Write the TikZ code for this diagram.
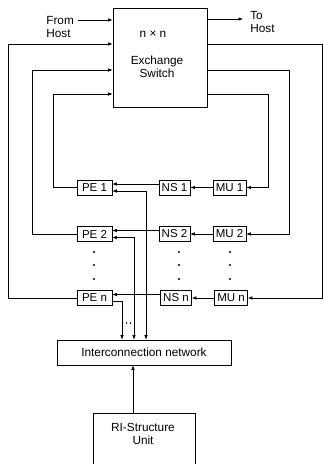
\documentclass[tikz,border=0pt]{standalone}
\usepackage{fontspec}
\setmainfont{Liberation Sans}
\usetikzlibrary{arrows.meta,calc}
\begin{document}
\begin{tikzpicture}[x=1pt,y=-1pt,
  line width=0.6pt,
  arr/.style={-{Latex[length=4.5pt,width=3.5pt]}},
  barr/.style={{Latex[length=4.5pt,width=3.5pt]}-{Latex[length=4.5pt,width=3.5pt]}},
  unit/.style={draw,minimum height=15pt,inner sep=1pt,font=\fontsize{11.5}{12}\selectfont},
  lbl/.style={font=\fontsize{11.8}{12.5}\selectfont,inner sep=0pt},
  dot/.style={circle,fill,inner sep=0pt,minimum size=2.4pt},
  sdot/.style={circle,fill,inner sep=0pt,minimum size=1.8pt}]
\useasboundingbox (0,0) rectangle (324,464);

% exchange switch
\node[draw,minimum width=94pt,minimum height=99pt] (sw) at (160,57.5) {};
\node[lbl] (nn) at (153,34) {n × n};
\node[lbl,align=center] (ex) at (157,67) {Exchange\\Switch};

% host labels
\node[lbl,align=left,anchor=west] (from) at (46,27) {From\\Host};
\node[lbl,align=left,anchor=west] (to) at (250,22) {To\\Host};
\coordinate (fh) at (78,20);
\coordinate (th) at (243,19);
\draw[arr] (fh) -- (fh -| sw.west);
\draw[arr] (th -| sw.east) -- (th);

% units
\node[unit,minimum width=35pt] (pe1) at (94.5,187.5) {PE 1};
\node[unit,minimum width=31pt] (ns1) at (174.5,187.5) {NS 1};
\node[unit,minimum width=33pt] (mu1) at (229.5,187.5) {MU 1};
\node[unit,minimum width=35pt] (pe2) at (94.5,234) {PE 2};
\node[unit,minimum width=31pt] (ns2) at (174.5,234) {NS 2};
\node[unit,minimum width=33pt] (mu2) at (229.5,234) {MU 2};
\node[unit,minimum width=35pt] (pen) at (94.5,298) {PE n};
\node[unit,minimum width=31pt] (nsn) at (176,298) {NS n};
\node[unit,minimum width=33pt] (mun) at (231,298) {MU n};

% vertical dots
\foreach \y in {252,265,279}{
  \node[dot] at (94,\y) {};
  \node[dot] at (179,\y) {};
  \node[dot] at (230,\y) {};
}

% interconnection network and RI-structure unit
\node[draw,minimum width=174pt,minimum height=25pt,lbl] (net) at (144,352.5) {Interconnection network};
\node[draw,minimum width=102pt,minimum height=62pt] (ribox) at (144,444) {};
\node[lbl,align=center] (ri) at (143,434) {RI-Structure\\Unit};

% left feedback lines into switch
\coordinate (l1) at (53,94);
\coordinate (l2) at (32,70);
\coordinate (l3) at (8,44);
\draw[arr] (pe1.west) -| (l1) -- (l1 -| sw.west);
\draw[arr] (pe2.west) -| (l2) -- (l2 -| sw.west);
\draw[arr] (pen.west) -| (l3) -- (l3 -| sw.west);

% right output lines from switch
\coordinate (r1) at (268,94);
\coordinate (r2) at (289,70);
\coordinate (r3) at (322,44);
\draw[arr] (r1 -| sw.east) -- (r1) |- (mu1.east);
\draw[arr] (r2 -| sw.east) -- (r2) |- (mu2.east);
\draw[arr] (r3 -| sw.east) -- (r3) |- (mun.east);

% row connections
\draw[arr] (mu1.west) -- (ns1.east);
\draw[arr] (mu2.west) -- (ns2.east);
\draw[arr] (mun.west) -- (nsn.east);
\draw[arr] ([yshift=3.5pt]ns1.west) -- ([yshift=3.5pt]pe1.east);
\draw[arr] ([yshift=3.5pt]ns2.west) -- ([yshift=3.5pt]pe2.east);
\draw[arr] ([yshift=3.5pt]nsn.west) -- ([yshift=3.5pt]pen.east);

% PE to network
\coordinate (v1) at (146,0);
\coordinate (v2) at (134,0);
\coordinate (v3) at (122,0);
\draw[barr] ([yshift=-3.5pt]pe1.east) -| (v1 |- net.north);
\draw[barr] ([yshift=-3.5pt]pe2.east) -| (v2 |- net.north);
\draw[arr] ([yshift=-3.5pt]pen.east) -| (v3 |- net.north);
\node[sdot] (d1) at (126.5,323) {};
\node[sdot] (d2) at (130.5,323) {};

% RI to network
\coordinate (v0) at (133,0);
\draw[arr] (v0 |- ribox.north) -- (v0 |- net.south);
\end{tikzpicture}
\end{document}
